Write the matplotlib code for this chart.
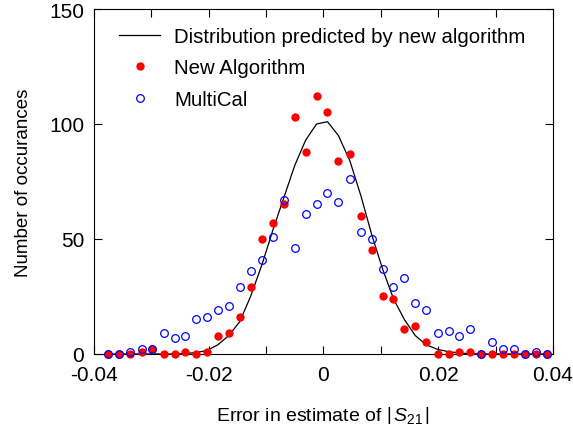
import matplotlib
matplotlib.use('Agg')
import matplotlib.pyplot as plt

plt.rcParams['font.family'] = ['Liberation Sans', 'DejaVu Sans']
plt.rcParams['mathtext.fontset'] = 'custom'
plt.rcParams['mathtext.rm'] = 'Liberation Sans'
plt.rcParams['mathtext.it'] = 'Liberation Sans:italic'

# bin centres (error in |S21|)
x = [-0.0375, -0.0356, -0.0337, -0.0317, -0.0298, -0.0278, -0.0259, -0.0241,
     -0.0222, -0.0203, -0.0184, -0.0165, -0.0146, -0.0127, -0.0107, -0.0088,
     -0.0069, -0.0050, -0.0031, -0.0012, 0.0007, 0.0026, 0.0046, 0.0065,
     0.0084, 0.0103, 0.0122, 0.0141, 0.0160, 0.0179, 0.0199, 0.0218,
     0.0237, 0.0256, 0.0275, 0.0294, 0.0313, 0.0332, 0.0352, 0.0371, 0.0390]

# predicted distribution
predicted = [0, 0, 0, 0, 0, 0, 0, 0.2, 0.6, 1.5, 4, 8, 14, 25, 39, 54, 68, 82,
             93, 100, 101, 95, 84, 69, 52, 37, 24, 15, 8, 4, 2, 1, 0.4, 0.1,
             0, 0, 0, 0, 0, 0, 0]

# new algorithm
new_alg = [0, 0, 0, 1, 2, 0, 0, 1, 0, 1, 8, 9, 16, 29, 50, 57, 65, 103,
           88, 112, 105, 84, 87, 60, 45, 25, 24, 11, 12, 5, 0, 0, 1, 1,
           0, 0, 0, 0, 0, 0, 0]

# MultiCal
multical = [0, 0, 1, 2, 2, 9, 7, 8, 15, 16, 19, 21, 29, 36, 41, 51, 67, 46,
            61, 65, 70, 66, 76, 53, 50, 37, 29, 33, 22, 19, 9, 10, 8, 11,
            0, 5, 2, 2, 0, 1, 0]

fig = plt.figure(figsize=(5.73, 4.35), dpi=100)
ax = fig.add_axes([0.164, 0.184, 0.801, 0.793])

ax.plot(x, predicted, color='black', linewidth=0.9,
        label='Distribution predicted by new algorithm')
ax.plot(x, new_alg, 'o', color='#ff0000', markersize=6, markeredgewidth=0,
        label='New Algorithm', clip_on=False, zorder=3)
ax.plot(x, multical, 'o', markerfacecolor='none', markeredgecolor='#0000ff',
        markersize=5.5, markeredgewidth=0.9, label='MultiCal', clip_on=False,
        zorder=4)

ax.set_xlim(-0.04, 0.04)
ax.set_ylim(0, 150)
ax.set_xticks([-0.04, -0.02, 0, 0.02, 0.04])
ax.set_xticklabels(['-0.04', '-0.02', '0', '0.02', '0.04'])
ax.set_xticks([-0.03, -0.01, 0.01, 0.03], minor=True)
ax.set_yticks([0, 50, 100, 150])
ax.tick_params(axis='both', which='both', direction='in', top=True,
               right=True, labelsize=15, length=6, width=0.8)
ax.tick_params(axis='x', which='both', pad=8)
ax.tick_params(axis='y', which='both', pad=7)

ax.set_xlabel(r'Error in estimate of $\left|\,S_{21}\,\right|$',
              fontsize=14, labelpad=14)
ax.set_ylabel('Number of occurances', fontsize=13.5, labelpad=12)

ax.legend(loc='upper left', frameon=False, fontsize=14.7, handlelength=2.0,
          handletextpad=0.7, labelspacing=0.62, borderaxespad=0.3,
          bbox_to_anchor=(0.024, 0.99))

fig.savefig('out.png', dpi=100)
